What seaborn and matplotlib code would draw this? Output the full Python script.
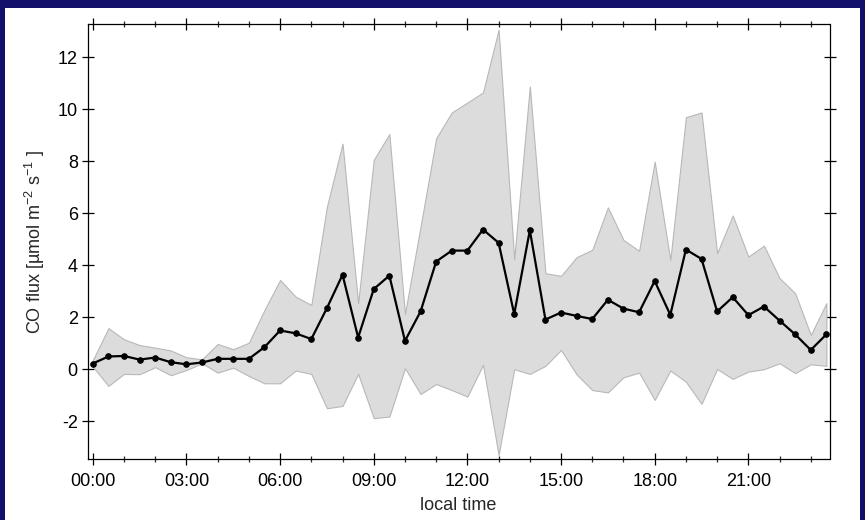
import numpy as np
import pandas as pd
import matplotlib
matplotlib.use('Agg')
import matplotlib.pyplot as plt
import seaborn as sns
from matplotlib.patches import Rectangle
from matplotlib.ticker import MultipleLocator, FuncFormatter

# half-hourly mean CO flux and the spread around it
hours = [0, 0.5, 1, 1.5, 2, 2.5, 3, 3.5, 4, 4.5, 5, 5.5,
         6, 6.5, 7, 7.5, 8, 8.5, 9, 9.5, 10, 10.5, 11, 11.5,
         12, 12.5, 13, 13.5, 14, 14.5, 15, 15.5, 16, 16.5, 17, 17.5,
         18, 18.5, 19, 19.5, 20, 20.5, 21, 21.5, 22, 22.5, 23, 23.5]
flux_mean = [0.22, 0.49, 0.51, 0.37, 0.45, 0.27, 0.19, 0.26,
             0.40, 0.40, 0.40, 0.85, 1.49, 1.38, 1.16, 2.35,
             3.63, 1.22, 3.08, 3.60, 1.09, 2.22, 4.14, 4.56,
             4.56, 5.37, 4.86, 2.12, 5.34, 1.91, 2.18, 2.05,
             1.93, 2.67, 2.33, 2.19, 3.39, 2.09, 4.60, 4.24,
             2.22, 2.77, 2.08, 2.41, 1.87, 1.34, 0.74, 1.34]
flux_high = [0.35, 1.58, 1.15, 0.93, 0.83, 0.72, 0.46, 0.38,
             0.97, 0.77, 1.02, 2.28, 3.43, 2.79, 2.47, 6.25,
             8.67, 2.54, 8.05, 9.04, 2.13, 5.49, 8.88, 9.87,
             10.25, 10.64, 13.05, 4.23, 10.87, 3.69, 3.59, 4.31,
             4.59, 6.22, 4.97, 4.55, 7.98, 4.20, 9.69, 9.87,
             4.46, 5.91, 4.33, 4.75, 3.50, 2.92, 1.32, 2.54]
flux_low = [0.10, -0.64, -0.18, -0.19, 0.08, -0.23, -0.03, 0.23,
            -0.13, 0.06, -0.26, -0.54, -0.54, -0.05, -0.18, -1.50,
            -1.41, -0.18, -1.88, -1.82, 0.04, -0.95, -0.57, -0.80,
            -1.05, 0.17, -3.30, 0.00, -0.18, 0.13, 0.74, -0.20,
            -0.80, -0.89, -0.31, -0.13, -1.18, -0.05, -0.48, -1.33,
            0.01, -0.37, -0.09, 0.00, 0.23, -0.15, 0.19, 0.13]

sns.set_style('ticks')
plt.rcParams['font.family'] = ['Liberation Sans', 'DejaVu Sans']
plt.rcParams['mathtext.fontset'] = 'custom'
plt.rcParams['mathtext.rm'] = 'Liberation Sans'
plt.rcParams['mathtext.it'] = 'Liberation Sans:italic'
plt.rcParams['axes.unicode_minus'] = False

df = pd.DataFrame({'hour': hours, 'flux': flux_mean,
                   'high': flux_high, 'low': flux_low})

fig = plt.figure(figsize=(8.65, 5.2), dpi=100, facecolor='#12106a')
# white slide panel inside the navy frame
fig.patches.append(Rectangle((5 / 865, 0), 855 / 865, 512 / 520,
                             transform=fig.transFigure, facecolor='white',
                             edgecolor='none', zorder=-10))
ax = fig.add_axes([87.5 / 865, 1 - 459 / 520, 742 / 865, 435 / 520])
ax.set_zorder(5)
ax.set_facecolor('white')

ax.fill_between(df['hour'], df['low'], df['high'], color='#dcdcdc',
                edgecolor='#b8b8b8', linewidth=0.8, zorder=1)
sns.lineplot(data=df, x='hour', y='flux', color='black', linewidth=1.6,
             marker='o', markersize=4, markeredgecolor='black', ax=ax,
             zorder=3)

ax.set_xlim(-0.17, 23.6)
ax.set_ylim(-3.45, 13.27)
ax.xaxis.set_major_locator(MultipleLocator(3))
ax.xaxis.set_minor_locator(MultipleLocator(1))
ax.xaxis.set_major_formatter(FuncFormatter(lambda v, p: f'{int(round(v)):02d}:00'))
ax.yaxis.set_major_locator(MultipleLocator(2))

ax.tick_params(which='major', direction='inout', length=8, width=0.9,
               top=True, right=True, labelsize=13, colors='black')
ax.tick_params(which='minor', direction='inout', length=4.5, width=0.9,
               top=True, right=False)
ax.tick_params(axis='x', which='major', pad=6)
ax.tick_params(axis='y', which='major', pad=3)
for s in ax.spines.values():
    s.set_color('black')
    s.set_linewidth(0.9)

ax.set_xlabel('local time', fontsize=13, labelpad=5)
ax.set_ylabel(r'CO flux [µmol m$^{-2}$ s$^{-1}$ ]', fontsize=13, labelpad=8)

fig.savefig('out.png', dpi=100, facecolor=fig.get_facecolor())
